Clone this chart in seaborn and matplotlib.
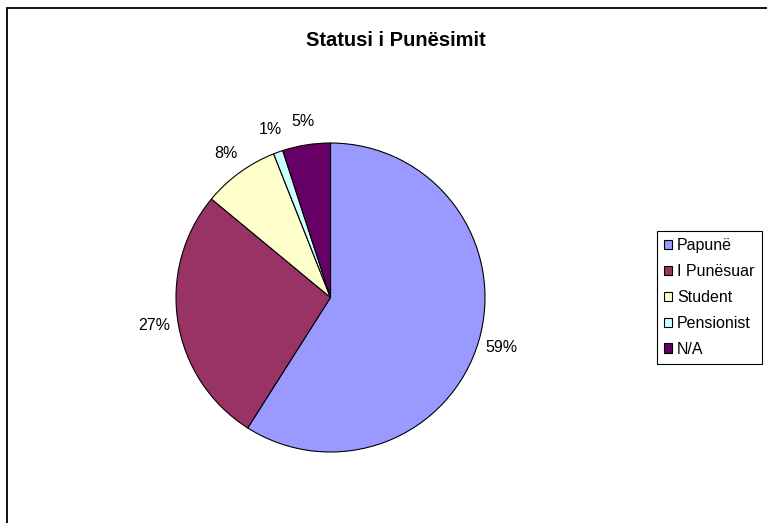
import matplotlib
matplotlib.use('Agg')
import matplotlib.pyplot as plt
import seaborn as sns
from matplotlib.patches import Rectangle

# data
categories = ['Papunë', 'I Punësuar', 'Student', 'Pensionist', 'N/A']
shares = [59, 27, 8, 1, 5]
colors = ['#9999FF', '#993366', '#FFFFCC', '#CCFFFF', '#660066']

sns.set_theme(style='white')
plt.rcParams['font.family'] = ['Liberation Sans', 'DejaVu Sans']
plt.rcParams['text.color'] = 'black'

fig = plt.figure(figsize=(7.67, 5.23), dpi=100)
fig.patch.set_facecolor('white')

# outer frame (only top and left visible in the original)
fig.add_artist(Rectangle((7 / 767, -0.1), 1.2, 1.1 - 8 / 523, transform=fig.transFigure,
                         fill=False, edgecolor='black', linewidth=1.3))

ax = fig.add_axes([176 / 767, 1 - 452 / 523, 309 / 767, 309 / 523])
wedges, texts, autotexts = ax.pie(
    shares, colors=colors, startangle=90, counterclock=False,
    autopct='%1.0f%%', pctdistance=1.155,
    wedgeprops=dict(edgecolor='black', linewidth=0.8),
    textprops=dict(fontsize=11.5, color='black'))
ax.set_xlim(-1, 1)
ax.set_ylim(-1, 1)
ax.set_aspect('equal')

fig.text(396 / 767, 1 - 40 / 523, 'Statusi i Punësimit', ha='center', va='center',
         fontsize=14.5, fontweight='bold', color='black')

leg = fig.legend(wedges, categories, loc='upper left',
                 bbox_to_anchor=(657 / 767, 1 - 231 / 523),
                 frameon=True, fancybox=False, edgecolor='black', framealpha=1,
                 fontsize=11.5, handlelength=0.5, handleheight=0.5, handletextpad=0.3,
                 labelspacing=0.68, borderpad=0.45, borderaxespad=0, labelcolor='black')
leg.get_frame().set_linewidth(0.8)

fig.savefig('out.png', dpi=100)
